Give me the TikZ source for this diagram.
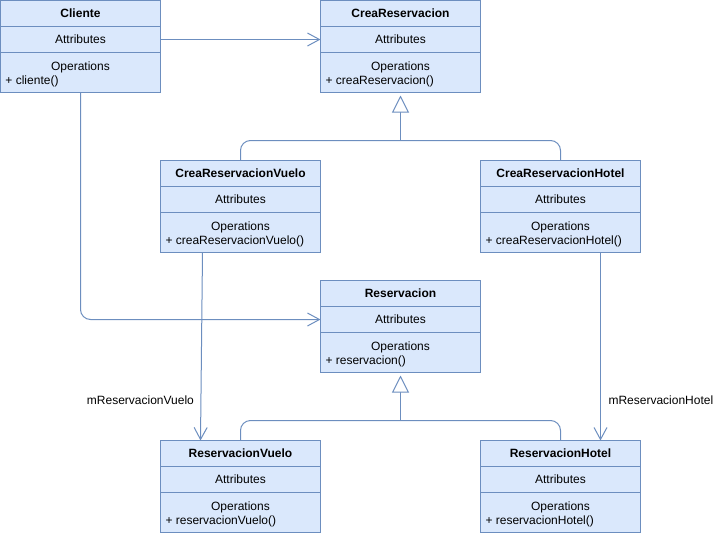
\documentclass[tikz,border=0pt]{standalone}
\usepackage{fontspec}
\setmainfont{Liberation Sans}
\usetikzlibrary{arrows.meta,calc}
\definecolor{boxfill}{HTML}{DAE8FC}
\definecolor{boxline}{HTML}{6C8EBF}
\tikzset{
  base/.style={draw=boxline, fill=boxfill, line width=1pt, minimum width=160pt,
    inner sep=0pt, outer sep=0pt, anchor=north west, font=\fontsize{12pt}{14pt}\selectfont},
  hdr/.style={base, minimum height=26pt, font=\fontsize{12pt}{14pt}\selectfont\bfseries},
  attr/.style={base, minimum height=26pt},
  opsec/.style={base, minimum height=40pt},
  txt/.style={inner sep=0pt, outer sep=0pt, font=\fontsize{12pt}{14pt}\selectfont},
  conn/.style={draw=boxline, line width=1pt},
  assoc/.style={conn, -{Straight Barb[length=12pt,width=13pt]}},
  inh/.style={conn, shorten >=3pt, -{Triangle[length=17pt,width=17pt,fill=white]}},
  lbl/.style={txt}
}
\newcommand\umlclass[5]{%
  \node[hdr] (#1-h) at (#2,#3) {#4};
  \node[attr] (#1-a) at (#1-h.south west) {Attributes};
  \node[opsec] (#1-o) at (#1-a.south west) {};
  \node[txt, anchor=base] (#1-ot) at ($(#1-o.north)+(0,17.5)$) {Operations};
  \node[txt, anchor=base west] (#1-m) at ($(#1-o.north west)+(5,31.5)$) {+ #5};
}
\begin{document}
\begin{tikzpicture}[x=1pt, y=-1pt]
\useasboundingbox (-0.5,-0.5) rectangle (712.5,535.5);
\umlclass{cli}{0}{0}{Cliente}{cliente()}
\umlclass{cr}{320}{0}{CreaReservacion}{creaReservacion()}
\umlclass{crv}{160}{160}{CreaReservacionVuelo}{creaReservacionVuelo()}
\umlclass{crh}{480}{160}{CreaReservacionHotel}{creaReservacionHotel()}
\umlclass{res}{320}{280}{Reservacion}{reservacion()}
\umlclass{rv}{160}{440}{ReservacionVuelo}{reservacionVuelo()}
\umlclass{rh}{480}{440}{ReservacionHotel}{reservacionHotel()}

% associations
\draw[assoc] (cli-a.east) -- (cr-a.west);
\draw[assoc, rounded corners=10pt] (cli-o.south) |- (res-a.west);
\draw[assoc] ($(crv-o.south west)+(42,0)$) -- ($(rv-h.north west)+(40,0)$)
  node[lbl, pos=0.787, anchor=east, xshift=-7pt] (l1) {mReservacionVuelo};
\draw[assoc] ($(crh-o.south west)+(120,0)$) -- ($(rh-h.north west)+(120,0)$)
  node[lbl, pos=0.787, anchor=west, xshift=8pt] (l2) {mReservacionHotel};

% inheritance
\coordinate (j1) at (400,140);
\draw[conn, rounded corners=10pt] (crv-h.north) |- (j1) -| (crh-h.north);
\draw[inh] (j1) -- (cr-o.south);
\coordinate (j2) at (400,420);
\draw[conn, rounded corners=10pt] (rv-h.north) |- (j2) -| (rh-h.north);
\draw[inh] (j2) -- (res-o.south);
\end{tikzpicture}
\end{document}
